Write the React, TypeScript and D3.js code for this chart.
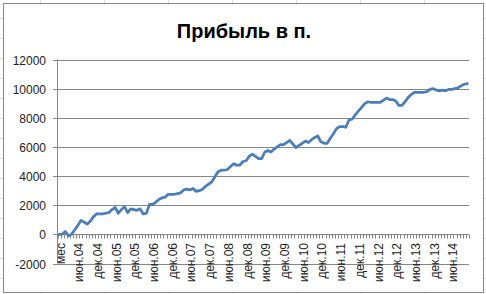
import React from "react";
import * as d3 from "d3";

const title = "Прибыль в п.";
const values: number[] = [
  0, 0, 200, -100, 0, 300, 600, 950, 850, 700,
  900, 1200, 1400, 1400, 1400, 1450, 1500, 1700, 1850, 1450,
  1700, 1900, 1500, 1750, 1700, 1650, 1750, 1400, 1450, 2050,
  2050, 2200, 2400, 2500, 2550, 2750, 2750, 2750, 2800, 2850,
  3050, 3100, 3050, 3150, 2950, 3000, 3100, 3300, 3450, 3600,
  3950, 4300, 4400, 4400, 4450, 4650, 4850, 4750, 4750, 5000,
  5050, 5350, 5500, 5350, 5200, 5200, 5650, 5750, 5650, 5850,
  6000, 6150, 6150, 6300, 6450, 6200, 5950, 6100, 6250, 6400,
  6300, 6500, 6650, 6750, 6350, 6250, 6250, 6600, 6900, 7250,
  7400, 7400, 7350, 7850, 7900, 8200, 8450, 8700, 8950, 9100,
  9050, 9050, 9050, 9050, 9200, 9350, 9250, 9250, 9150, 8850,
  8850, 9100, 9400, 9600, 9750, 9750, 9750, 9750, 9800, 9950,
  10000, 9900, 9850, 9900, 9850, 9950, 9950, 10000, 10050, 10200,
  10300, 10350,
];
const tickLabels: string[] = [
  "мес", "июн.04", "дек.04", "июн.05", "дек.05", "июн.06", "дек.06",
  "июн.07", "дек.07", "июн.08", "дек.08", "июн.09", "дек.09", "июн.10",
  "дек.10", "июн.11", "дек.11", "июн.12", "дек.12", "июн.13", "дек.13", "июн.14",
];
const labelStep = 6;
const yTicks: number[] = [-2000, 0, 2000, 4000, 6000, 8000, 10000, 12000];

const W = 486;
const H = 294;
const plotL = 57.5;
const plotR = 469;
const plotT = 59.5;
const plotB = 263.5;

export default function App() {
  const x = d3
    .scaleBand<number>()
    .domain(d3.range(values.length))
    .range([plotL, plotR])
    .paddingInner(0)
    .paddingOuter(0);
  const y = d3.scaleLinear().domain([-2000, 12000]).range([plotB, plotT]);
  const cx = (i: number) => (x(i) as number) + x.bandwidth() / 2;
  const line = d3
    .line<number>()
    .x((_, i) => cx(i))
    .y((d) => y(d))
    .curve(d3.curveLinear);
  const y0 = Math.round(y(0)) + 0.5;

  const bgCols = [40, 104, 168, 232, 296, 360, 424].map((v) => v + 0.5);
  const bgRows = d3.range(18, 294, 20).map((v) => v + 0.5);

  return (
    <svg
      width={W}
      height={H}
      style={{ position: "absolute", left: 0, top: 0 }}
      fontFamily="'Liberation Sans', Arial, sans-serif"
    >
      <rect width={W} height={H} fill="#ffffff" />
      {bgCols.map((v) => (
        <line key={"bc" + v} x1={v} x2={v} y1={0} y2={H} stroke="#dadcdd" />
      ))}
      {bgRows.map((v) => (
        <line key={"br" + v} x1={0} x2={W} y1={v} y2={v} stroke="#dadcdd" />
      ))}
      <rect x={3.5} y={3.5} width={480} height={289} fill="#ffffff" stroke="#868686" />
      <text
        x={244}
        y={38}
        textAnchor="middle"
        fontSize={20}
        fontWeight="bold"
        fill="#000"
      >
        {title}
      </text>
      {yTicks.map((t) => {
        const yy = Math.round(y(t)) + 0.5;
        return (
          <g key={"y" + t}>
            <line x1={53} x2={plotR} y1={yy} y2={yy} stroke="#868686" strokeWidth={1} />
            <text x={46} y={yy} dy="0.35em" textAnchor="end" fontSize={12} fill="#222">
              {t}
            </text>
          </g>
        );
      })}
      <line x1={plotL} x2={plotL} y1={plotT} y2={plotB} stroke="#868686" />
      {d3.range(values.length + 1).map((i) => {
        const xx = Math.round(plotL + i * x.bandwidth()) + 0.5;
        return <line key={"t" + i} x1={xx} x2={xx} y1={y0} y2={y0 + 4} stroke="#868686" />;
      })}
      {tickLabels.map((lab, k) => {
        const i = k * labelStep;
        return (
          <text
            key={"xl" + k}
            transform={`translate(${cx(i) + 5.5},243) rotate(-90)`}
            textAnchor="end"
            fontSize={12}
            fill="#222"
          >
            {lab}
          </text>
        );
      })}
      <path
        d={line(values) || ""}
        fill="none"
        stroke="#4a7ebb"
        strokeWidth={2.75}
        strokeLinejoin="round"
        strokeLinecap="round"
      />
    </svg>
  );
}
